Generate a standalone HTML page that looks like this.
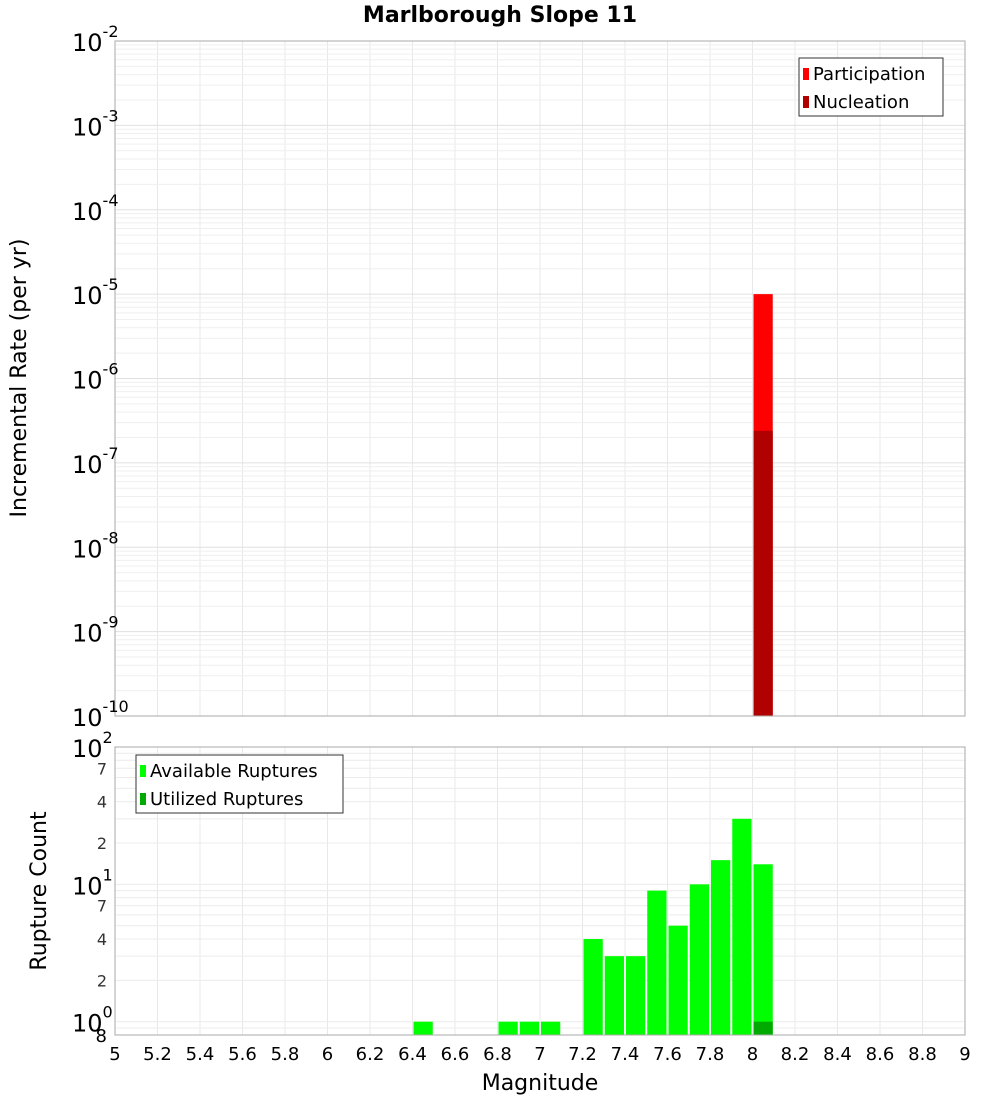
<!DOCTYPE html>
<html><head><meta charset="utf-8"><style>
body{margin:0;background:#fff}
svg text{font-family:"DejaVu Sans","Liberation Sans",sans-serif}
</style></head><body>
<svg id="c" width="1000" height="1100" xmlns="http://www.w3.org/2000/svg">
<text x="500" y="22" text-anchor="middle" font-size="22" font-weight="bold">Marlborough Slope 11</text>
</svg>
<script>
const binStarts=[6.4,6.8,6.9,7.0,7.2,7.3,7.4,7.5,7.6,7.7,7.8,7.9,8.0];
const availableCounts=[1,1,1,1,4,3,3,9,5,10,15,30,14];
const utilizedBins=[8.0];
const utilizedCounts=[1];
const rateBins=[8.0];
const participationRates=[1e-5];
const nucleationRates=[2.4e-7];
const xTicks=[5,5.2,5.4,5.6,5.8,6,6.2,6.4,6.6,6.8,7,7.2,7.4,7.6,7.8,8,8.2,8.4,8.6,8.8,9];
const topDecades=[-10,-9,-8,-7,-6,-5,-4,-3,-2];
const botMinorLabels=[2,4,7];

const svg=document.getElementById('c');
const NS='http://www.w3.org/2000/svg';
function mk(t,a,p){const e=document.createElementNS(NS,t);for(const k in a)e.setAttribute(k,a[k]);(p||svg).appendChild(e);return e;}
const X0=115,X1=965;
const xs=m=>X0+(m-5)/4*(X1-X0);
const T0=41,T1=716;
const yTop=v=>T0+(-2-Math.log10(v))/8*(T1-T0);
const B0=747,B1=1035,bl=Math.log10(0.8);
const yBot=v=>B0+(2-Math.log10(v))/(2-bl)*(B1-B0);

// grids
const g=mk('g',{});


xTicks.forEach(t=>{mk('line',{x1:xs(t),x2:xs(t),y1:T0,y2:T1,stroke:'#e8e8e8'},g);mk('line',{x1:xs(t),x2:xs(t),y1:B0,y2:B1,stroke:'#e8e8e8'},g);});
for(let d=-10;d<-2;d++)for(let k=1;k<10;k++){const y=yTop(k*Math.pow(10,d));mk('line',{x1:X0,x2:X1,y1:y,y2:y,stroke:k==1?'#e0e0e0':'#efefef'},g);}
[0.8,0.9,1,2,3,4,5,6,7,8,9,10,20,30,40,50,60,70,80,90].forEach(v=>{const y=yBot(v);mk('line',{x1:X0,x2:X1,y1:y,y2:y,stroke:'#ececec'},g);});

// top bars
rateBins.forEach((b,i)=>{
 const x=xs(b)+1,w=xs(b+0.1)-xs(b)-2;
 let r=mk('rect',{x:x,y:yTop(participationRates[i]),width:w,height:T1-yTop(participationRates[i]),fill:'#ff0000'});
 
 
 r=mk('rect',{x:x,y:yTop(nucleationRates[i]),width:w,height:T1-yTop(nucleationRates[i]),fill:'#b00000'});
 
 
});
// bottom bars
binStarts.forEach((b,i)=>{
 const x=xs(b)+1,w=xs(b+0.1)-xs(b)-2,y=yBot(availableCounts[i]);
 const r=mk('rect',{x:x,y:y,width:w,height:B1-y,fill:'#00ff00'});
 
 
});
utilizedBins.forEach((b,i)=>{
 const x=xs(b)+1,w=xs(b+0.1)-xs(b)-2,y=yBot(utilizedCounts[i]);
 const r=mk('rect',{x:x,y:y,width:w,height:B1-y,fill:'#00aa00'});
 
 
});
// frames
mk('rect',{x:X0,y:T0,width:X1-X0,height:T1-T0,fill:'none',stroke:'#aaa'});
mk('rect',{x:X0,y:B0,width:X1-X0,height:B1-B0,fill:'none',stroke:'#aaa'});

// top y labels
topDecades.forEach(d=>{
 const y=yTop(Math.pow(10,d));
 const t=mk('text',{x:72,y:y+10,'font-size':24});
 
 
 t.textContent='10';
 const s=mk('tspan',{dy:-14,'font-size':16},t);s.textContent=String(d);
});
// bottom y labels
[[1,'0'],[10,'1'],[100,'2']].forEach(([v,e])=>{
 const y=yBot(v);
 const t=mk('text',{x:72,y:y+10,'font-size':24});
 
 
 t.textContent='10';
 const s=mk('tspan',{dy:-14,'font-size':16},t);s.textContent=e;
});
[1,10].forEach(m=>botMinorLabels.forEach(k=>{
 const t=mk('text',{x:107,y:yBot(k*m)+6,'font-size':16,'text-anchor':'end',fill:'#333'});
 
 
 t.textContent=String(k);
}));
{const t=mk('text',{x:107,y:1042,'font-size':18,'text-anchor':'end'});t.textContent='8';

}
// x labels
xTicks.forEach(v=>{
 const t=mk('text',{x:xs(v),y:1060,'font-size':18,'text-anchor':'middle'});
 
 
 t.textContent=String(v);
});
let t=mk('text',{x:540,y:1090,'font-size':22,'text-anchor':'middle'});t.textContent='Magnitude';


t=mk('text',{x:0,y:0,'font-size':22,'text-anchor':'middle',transform:'translate(26,378) rotate(-90)'});t.textContent='Incremental Rate (per yr)';


t=mk('text',{x:0,y:0,'font-size':22,'text-anchor':'middle',transform:'translate(46,891) rotate(-90)'});t.textContent='Rupture Count';



// legends
function legend(x,y,w,items,name){
 const lg=mk('g',{});
 
 
 mk('rect',{x:x,y:y,width:w,height:58,fill:'#fff',stroke:'#333'},lg);
 items.forEach(([c,l],i)=>{
  mk('rect',{x:x+4,y:y+10+i*28,width:6,height:12,fill:c},lg);
  const tt=mk('text',{x:x+14,y:y+22+i*28,'font-size':18},lg);tt.textContent=l;
 });
}
legend(799,58,144,[['#ff0000','Participation'],['#b00000','Nucleation']],'top-legend');
legend(136,755,207,[['#00ff00','Available Ruptures'],['#00aa00','Utilized Ruptures']],'bottom-legend');
</script>
</body></html>
